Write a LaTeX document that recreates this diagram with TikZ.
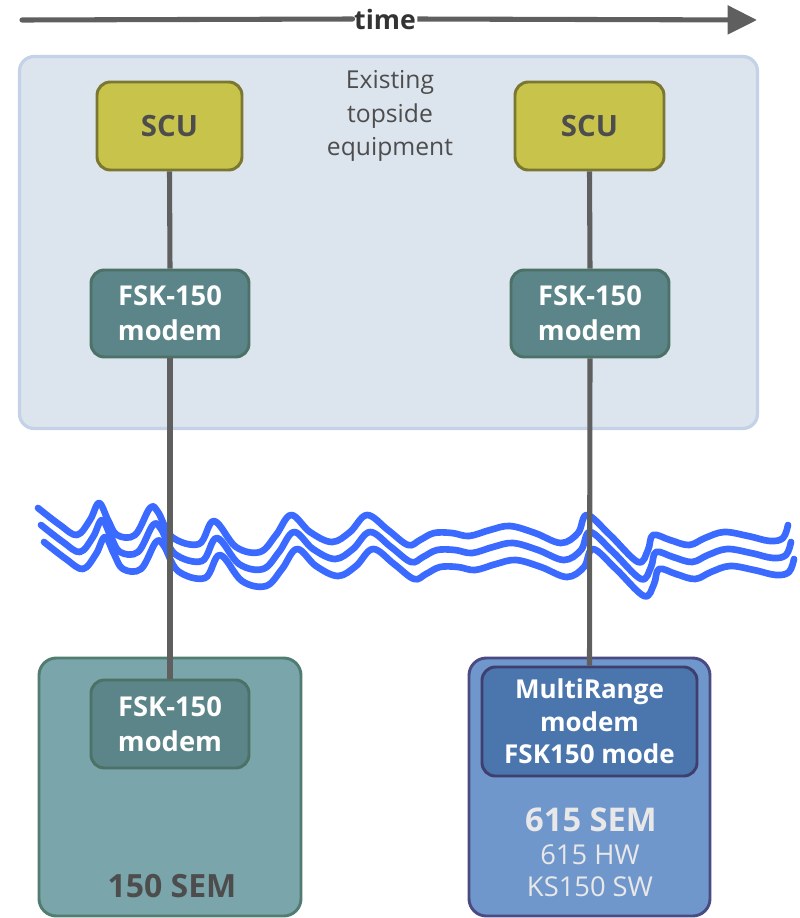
\documentclass[tikz,border=0pt]{standalone}
\usepackage{fontspec}
\setmainfont{Open Sans}
\usetikzlibrary{arrows.meta}
\definecolor{bgfill}{HTML}{DCE4EE}
\definecolor{bgline}{HTML}{C3D2E6}
\definecolor{scufill}{HTML}{C8C34A}
\definecolor{sculine}{HTML}{7B7731}
\definecolor{txtdark}{HTML}{4D4D4D}
\definecolor{fskfill}{HTML}{5B8588}
\definecolor{fskline}{HTML}{4C7167}
\definecolor{semfill}{HTML}{7AA5AA}
\definecolor{semline}{HTML}{517D71}
\definecolor{mrfill}{HTML}{7097CC}
\definecolor{mrline}{HTML}{4A4B82}
\definecolor{mrin}{HTML}{4B76AD}
\definecolor{mrinline}{HTML}{3E3F6F}
\definecolor{txtlight}{HTML}{E8E8E8}
\definecolor{wire}{HTML}{5F5F5F}
\definecolor{wave}{HTML}{3A6AFF}
\tikzset{
  px/.style={x=0.75pt,y=-0.75pt},
  rbox/.style={rounded corners=10pt, line width=2.2pt, inner sep=0pt, align=center},
  scubox/.style={rbox, fill=scufill, draw=sculine, text=txtdark, font=\fontsize{22}{24}\selectfont\bfseries},
  fskbox/.style={rbox, fill=fskfill, draw=fskline, text=white, font=\fontsize{20.5}{26}\selectfont\bfseries},
  wirestyle/.style={draw=wire, line width=3.8pt},
  wavestyle/.style={draw=wave, line width=5pt, line cap=round, line join=round}
}
\begin{document}
\begin{tikzpicture}[px]
\useasboundingbox (0,0) rectangle (800,918);
% background group box
\node[draw=bgline, fill=bgfill, line width=2.4pt, rounded corners=11pt, minimum width=738pt*0.75, minimum height=372pt*0.75, inner sep=0pt] (topside) at (388.5,242.5) {};
\node[text=txtdark, align=center, font=\fontsize{18.5}{25}\selectfont] (toplabel) at (390,116) {Existing\\topside\\equipment};
% time arrow
\node[fill=white, inner sep=1pt, text=black!80, font=\fontsize{20}{22}\selectfont\bfseries] (time) at (385,19) {time};
\coordinate (tstart) at (22,20);
\coordinate (tend) at (757,20);
\draw[wirestyle, line cap=round] (tstart) -- (time.west);
\draw[wirestyle, -{Triangle[length=22pt,width=21pt]}] (time.east) -- (tend);
% waves
\foreach \dx/\dy in {0/0, 3/17, 6/34} {
  \draw[wavestyle, xshift=\dx*0.75pt, yshift=-\dy*0.75pt] plot[smooth, tension=0.6] coordinates {
    (38,508) (60,525) (77,535) (90,520) (99,503) (108,520) (117,535) (135,535) (150,508) (158,512) (172,537)
    (199,544) (214,521) (236,547) (260,552) (276,535) (291,515) (310,532) (332,542) (350,532) (367,515)
    (388,530) (408,545) (420,540) (434,533) (452,533) (469,536) (490,530) (510,526) (535,533) (561,543)
    (578,533) (587,515) (610,535) (638,562) (648,550) (653,535) (670,540) (689,545) (705,538) (724,532)
    (748,536) (770,541) (783,538) (788,525)};
}
% top column boxes
\node[scubox, minimum width=145pt*0.75, minimum height=88pt*0.75] (scuL) at (169.5,126) {SCU};
\node[scubox, minimum width=149pt*0.75, minimum height=88pt*0.75] (scuR) at (589.5,126) {SCU};
\node[fskbox, minimum width=158pt*0.75, minimum height=87pt*0.75] (fskL) at (170,313.5) {FSK-150\\modem};
\node[fskbox, minimum width=158pt*0.75, minimum height=87pt*0.75] (fskR) at (590,313.5) {FSK-150\\modem};
% bottom SEM boxes
\node[rbox, fill=semfill, draw=semline, rounded corners=13pt, minimum width=262pt*0.75, minimum height=258pt*0.75] (semL) at (170,787) {};
\node[rbox, fill=mrfill, draw=mrline, rounded corners=13pt, minimum width=241pt*0.75, minimum height=258pt*0.75] (semR) at (589.5,787) {};
\node[fskbox, minimum width=158pt*0.75, minimum height=88pt*0.75] (fskB) at (170,724) {FSK-150\\modem};
\node[rbox, fill=mrin, draw=mrinline, text=white, font=\fontsize{19.5}{24.5}\selectfont\bfseries, minimum width=215pt*0.75, minimum height=109pt*0.75] (mr) at (589.5,721.5) {MultiRange\\modem\\FSK150 mode};
\node[text=txtdark, font=\fontsize{24}{26}\selectfont\bfseries] (semLlabel) at (172,886) {150 SEM};
\node[text=txtlight, font=\fontsize{24.5}{26}\selectfont\bfseries] (semRlabel) at (591,820) {615 SEM};
\node[text=txtlight, align=center, font=\fontsize{20.5}{24}\selectfont] (semRsub) at (590,871) {615 HW\\KS150 SW};
% connectors
\draw[wirestyle] (scuL.south) -- (fskL.north);
\draw[wirestyle] (fskL.south) -- (fskB.north);
\draw[wirestyle] (scuR.south) -- (fskR.north);
\draw[wirestyle] (fskR.south) -- (mr.north);
\end{tikzpicture}
\end{document}
